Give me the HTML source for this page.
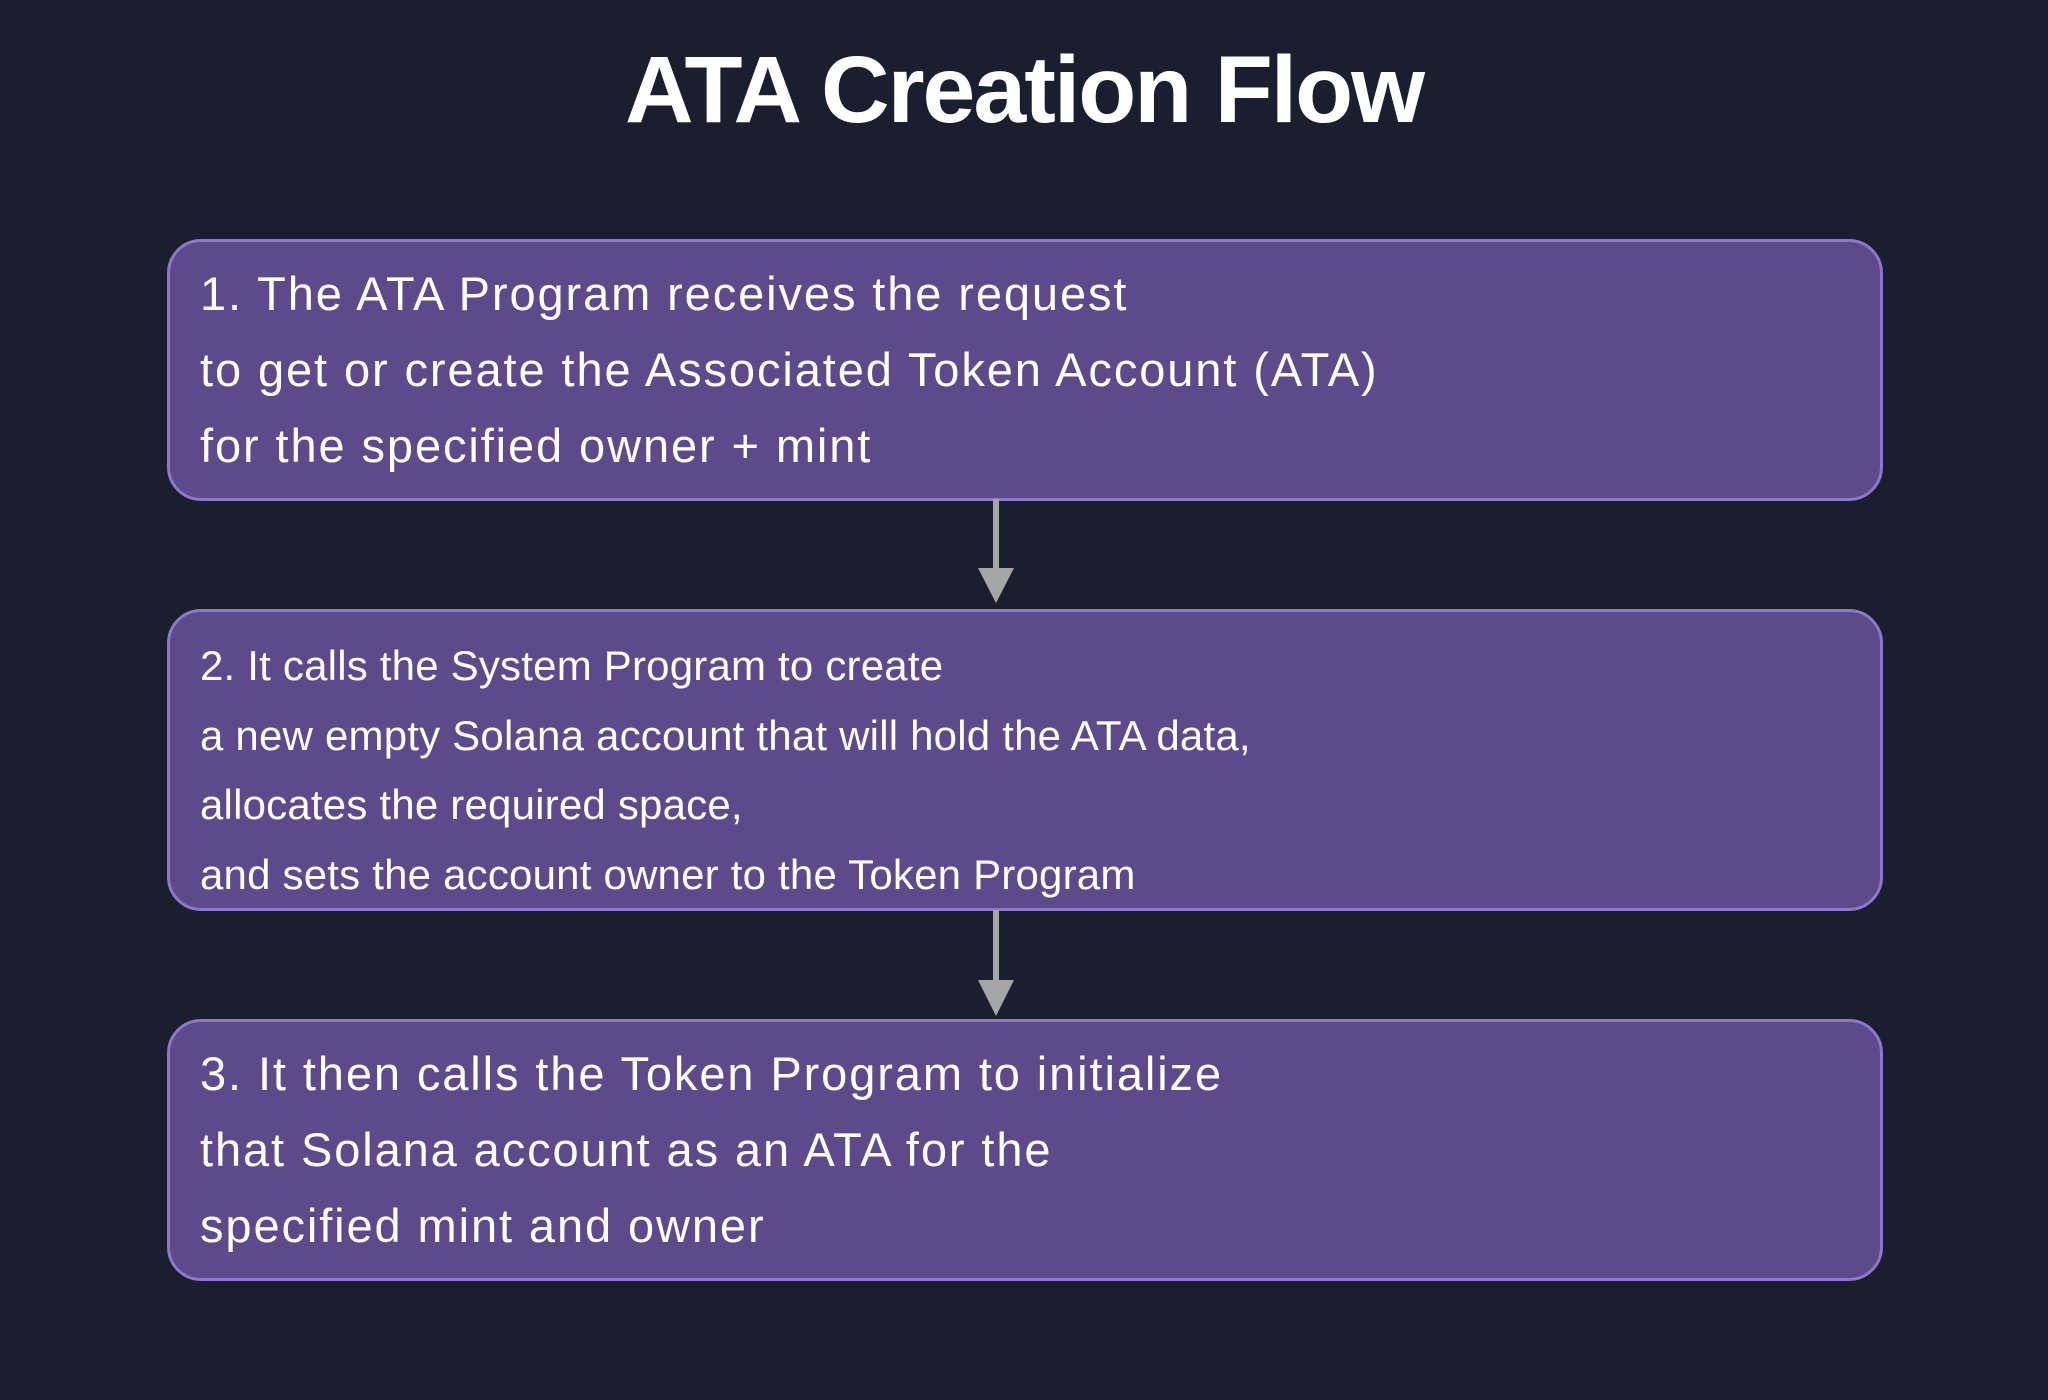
<!DOCTYPE html>
<html><head><meta charset="utf-8"><style>
html,body{margin:0;padding:0;}
body{width:2048px;height:1400px;background:#1b1e2e;position:relative;overflow:hidden;font-family:"Liberation Sans",sans-serif;color:#fff;}
.title{position:absolute;left:0;width:2048px;top:36px;text-align:center;font-size:95px;font-weight:bold;letter-spacing:-2px;}
.box{position:absolute;left:167px;width:1716px;background:#5d4a8a;border:3px solid #8c78c8;border-radius:34px;box-sizing:border-box;}
.line{position:absolute;left:30px;white-space:nowrap;font-size:47px;letter-spacing:1.9px;line-height:1;}
.b2 .line{font-size:42px;letter-spacing:0.2px;}
</style></head><body>
<div class="title">ATA Creation Flow</div>
<div class="box" style="top:239px;height:262px">
<div class="line" style="top:28px">1. The ATA Program receives the request</div>
<div class="line" style="top:104px">to get or create the Associated Token Account (ATA)</div>
<div class="line" style="top:180px">for the specified owner + mint</div>
</div>
<div class="box b2" style="top:609px;height:302px">
<div class="line" style="top:33px">2. It calls the System Program to create</div>
<div class="line" style="top:103px">a new empty Solana account that will hold the ATA data,</div>
<div class="line" style="top:172px">allocates the required space,</div>
<div class="line" style="top:242px">and sets the account owner to the Token Program</div>
</div>
<div class="box" style="top:1019px;height:262px">
<div class="line" style="top:28px">3. It then calls the Token Program to initialize</div>
<div class="line" style="top:104px">that Solana account as an ATA for the</div>
<div class="line" style="top:180px">specified mint and owner</div>
</div>
<svg width="2048" height="1400" style="position:absolute;left:0;top:0">
<line x1="996" y1="499" x2="996" y2="572" stroke="#a6a6a6" stroke-width="6"/>
<polygon points="978,568 1014,568 996,603" fill="#a6a6a6"/>
<line x1="996" y1="910" x2="996" y2="982" stroke="#a6a6a6" stroke-width="6"/>
<polygon points="978,980 1014,980 996,1016" fill="#a6a6a6"/>
</svg>
</body></html>
